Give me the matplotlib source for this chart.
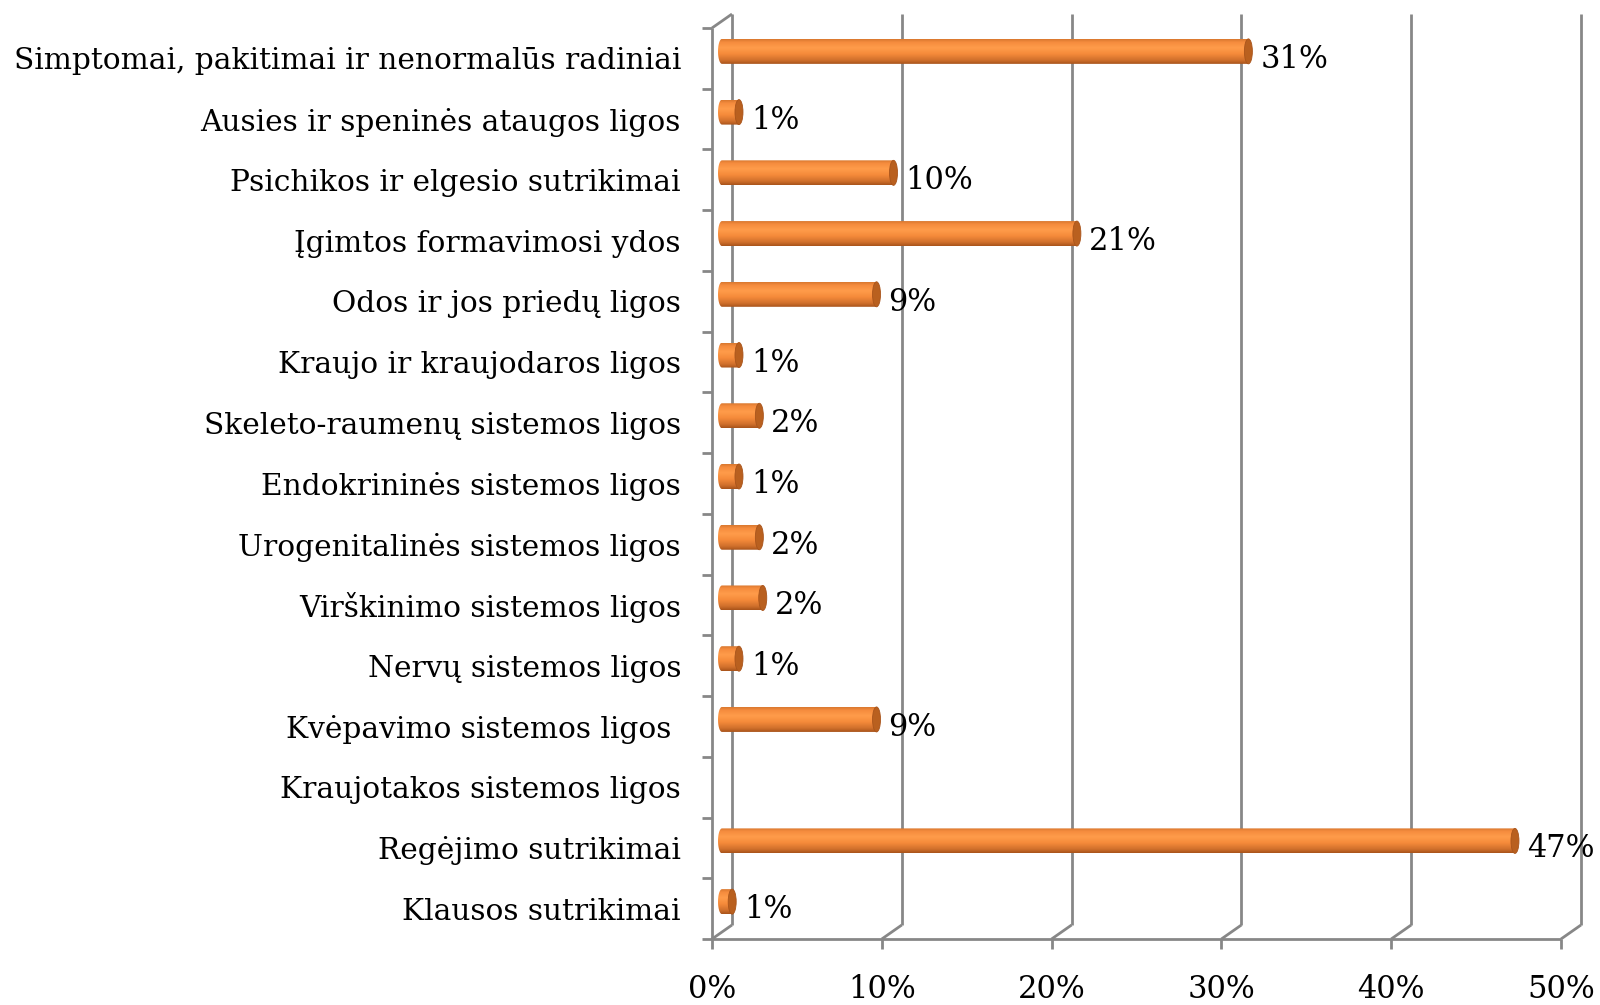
import numpy as np
import matplotlib
matplotlib.use("Agg")
import matplotlib.pyplot as plt
from matplotlib.patches import Ellipse, Polygon
from matplotlib.colors import LinearSegmentedColormap

categories = [
    "Simptomai, pakitimai ir nenormalūs radiniai",
    "Ausies ir speninės ataugos ligos",
    "Psichikos ir elgesio sutrikimai",
    "Įgimtos formavimosi ydos",
    "Odos ir jos priedų ligos",
    "Kraujo ir kraujodaros ligos",
    "Skeleto-raumenų sistemos ligos",
    "Endokrininės sistemos ligos",
    "Urogenitalinės sistemos ligos",
    "Virškinimo sistemos ligos",
    "Nervų sistemos ligos",
    "Kvėpavimo sistemos ligos ",
    "Kraujotakos sistemos ligos",
    "Regėjimo sutrikimai",
    "Klausos sutrikimai",
]
values = [31.0, 1.0, 10.1, 20.9, 9.1, 1.0, 2.2, 1.0, 2.2, 2.4, 1.0, 9.1, 0.0, 46.7, 0.6]
xticks = [0, 10, 20, 30, 40, 50]
xtick_labels = ["0%", "10%", "20%", "30%", "40%", "50%"]

FONT = "DejaVu Serif"
FS = 21.3
FS_TICK = 22
GRID = "#878787"

W, H, DPI = 1600, 1005, 100
fig = plt.figure(figsize=(W / DPI, H / DPI), dpi=DPI)
fig.patch.set_facecolor("white")

left_px, right_px, top_px, bot_px = 712, 1561, 28, 939
ax = fig.add_axes([left_px / W, 1 - bot_px / H, (right_px - left_px) / W, (bot_px - top_px) / H])
ax.set_axis_off()
n = len(categories)
xmin, xmax = 0, 50
ymin, ymax = -0.5, n - 0.5

px_x = (right_px - left_px) / (xmax - xmin)   # px per percent
px_y = (bot_px - top_px) / n                   # px per category

# depth offsets (back plane)
ddx = 20 / px_x
ddy = 14 / px_y
# mid plane for bars
mdx, mdy = ddx / 2, ddy / 2

lw = 2.0
kw = dict(color=GRID, lw=lw, clip_on=False, solid_capstyle="butt", zorder=1)

# back-plane vertical gridlines
for t in xticks:
    ax.plot([t + ddx, t + ddx], [ymax - ddy, ymin - ddy], **kw)
    ax.plot([t, t + ddx], [ymax, ymax - ddy], **kw)
    ax.plot([t, t], [ymax, ymax + 10 / px_y], **kw)
# front left axis and bottom axis
ax.plot([0, 0], [ymin, ymax], **kw)
ax.plot([xmin, xmax], [ymax, ymax], **kw)
# top-left diagonal
ax.plot([0, ddx], [ymin, ymin - ddy], **kw)
# category ticks on left
for k in range(n + 1):
    yb = ymin + k
    ax.plot([-10 / px_x, 0], [yb, yb], **kw)

# cylinder bars
cmap = LinearSegmentedColormap.from_list(
    "cyl",
    [(0.0, "#D9782F"), (0.12, "#F58C3E"), (0.35, "#FF9C4A"), (0.6, "#F58A3A"),
     (0.85, "#D0702C"), (1.0, "#A9541B")])
grad = np.linspace(0, 1, 64).reshape(-1, 1)
bar_h = 25 / px_y
cap_w = 8 / px_x

for i, v in enumerate(values):
    if v <= 0:
        continue
    yc = i - mdy
    x0 = 0 + mdx
    x1 = v + mdx
    th = np.linspace(np.pi / 2, 3 * np.pi / 2, 40)
    arc = np.column_stack([x0 + (cap_w / 2) * np.cos(th), yc - (bar_h / 2) * np.sin(th)])
    pts = np.vstack([arc, [[x1, yc + bar_h / 2], [x1, yc - bar_h / 2]]])
    poly = Polygon(pts, closed=True, facecolor="none", edgecolor="none", transform=ax.transData)
    ax.add_patch(poly)
    im = ax.imshow(grad, cmap=cmap, aspect="auto", interpolation="bilinear",
                   extent=(x0 - cap_w / 2, x1, yc + bar_h / 2, yc - bar_h / 2),
                   zorder=3)
    im.set_clip_path(poly)
    cap = Ellipse((x1, yc), cap_w, bar_h, facecolor="#B9601F", edgecolor="#A9541B",
                  lw=0.6, zorder=4)
    ax.add_patch(cap)
    ax.annotate(f"{v:.0f}%", xy=(v, i), xytext=(22 * 72 / DPI, -1 * 72 / DPI),
                textcoords="offset points", ha="left", va="center",
                fontsize=FS_TICK, family=FONT, color="black", zorder=5,
                annotation_clip=False)

# category labels
for i, c in enumerate(categories):
    ax.text(-31 / px_x, i + 3 / px_y, c, ha="right", va="center", fontsize=FS,
            family=FONT, color="black", clip_on=False)

# x tick labels
for t, lab in zip(xticks, xtick_labels):
    ax.text(t, ymax + 50 / px_y, lab, ha="center", va="center", fontsize=FS_TICK,
            family=FONT, color="black", clip_on=False)

ax.set_xlim(xmin, xmax)
ax.set_ylim(ymax, ymin)

fig.savefig("out.png", dpi=DPI, facecolor="white")
